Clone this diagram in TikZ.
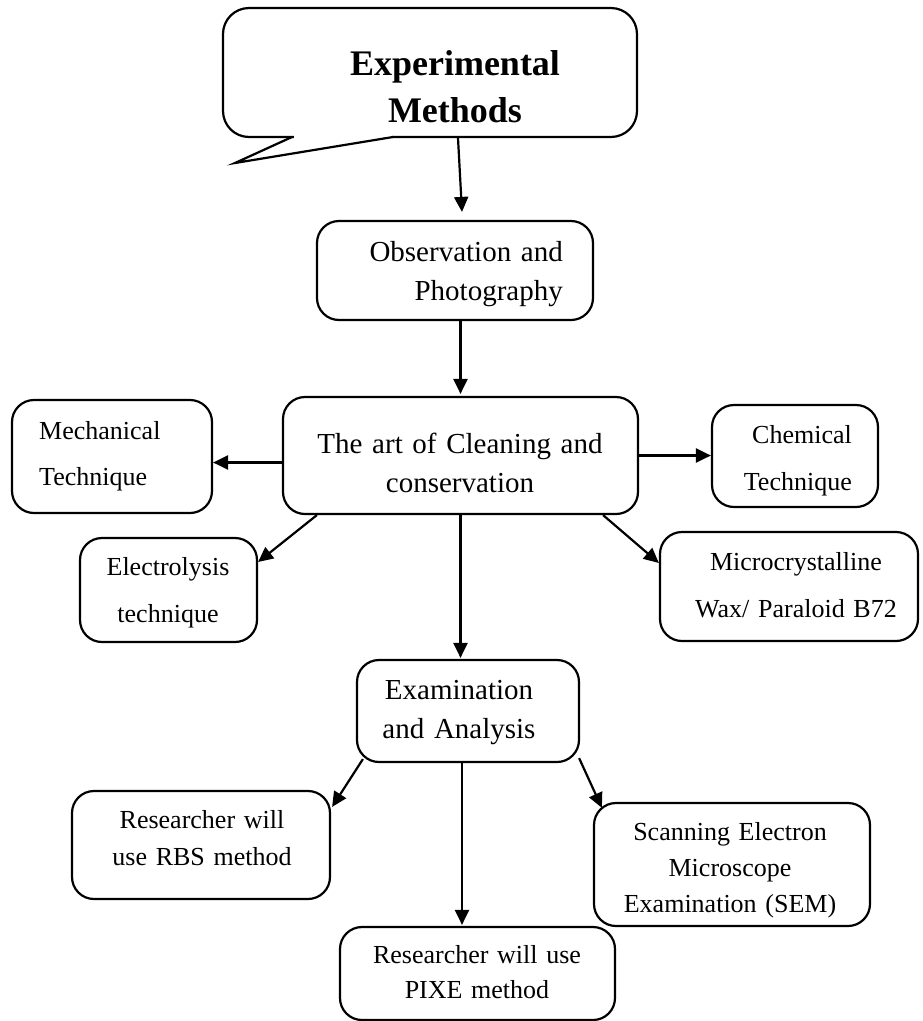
\documentclass[tikz,border=0pt]{standalone}
\usepackage{fontspec}
\setmainfont{Liberation Serif}
\usetikzlibrary{arrows.meta}
\begin{document}
\begin{tikzpicture}[x=1pt,y=-1pt,
  box/.style={draw, line width=2.2pt, rounded corners=22pt, inner sep=0pt},
  arr/.style={-{Triangle[length=15pt,width=14pt]}, line width=2.2pt},
  txt/.style={inner sep=0pt, text width=320pt},
  big/.style={font=\fontsize{29}{39}\selectfont},
  small/.style={font=\fontsize{26}{47}\selectfont},
  tight/.style={font=\fontsize{26}{36}\selectfont}]
\useasboundingbox (0,0) rectangle (922,1021);
\fill[white] (0,0) rectangle (922,1021);

% speech-bubble title
\node[box, rounded corners=26pt, minimum width=414pt, minimum height=129pt] (title) at (430,72.5) {};
\fill[white] (293.5,134.5) rectangle (391.5,139.6);
\draw[line width=2.2pt, line join=miter] (292,137) -- (235,163) -- (393,137);
\node[txt, align=center, anchor=base, font=\fontsize{36}{47}\selectfont\bfseries] (title-t) at (455,75) {Experimental\\Methods};

% boxes
\node[box, minimum width=276pt, minimum height=99pt]  (obs)   at (455,270.5) {};
\node[box, minimum width=355pt, minimum height=117pt] (clean) at (460.5,455.5) {};
\node[box, minimum width=200pt, minimum height=113pt] (mech)  at (112,456.5) {};
\node[box, minimum width=166pt, minimum height=102pt] (chem)  at (795,456) {};
\node[box, minimum width=177pt, minimum height=104pt] (elec)  at (168.5,590) {};
\node[box, minimum width=258pt, minimum height=109pt] (micro) at (789,586.5) {};
\node[box, minimum width=222pt, minimum height=102pt] (exam)  at (468,711) {};
\node[box, minimum width=258pt, minimum height=108pt] (rbs)   at (201,845) {};
\node[box, minimum width=275pt, minimum height=93pt]  (pixe)  at (477.5,973.5) {};
\node[box, minimum width=276pt, minimum height=123pt] (sem)   at (732,864.5) {};

% box texts
\node[txt, big, align=right, anchor=base east] (obs-t) at (563,261) {Observation and\\Photography};
\node[txt, big, align=center, anchor=base] (clean-t) at (460,453) {The art of Cleaning and\\conservation};
\node[txt, font=\fontsize{26}{46}\selectfont, align=left, anchor=base west] (mech-t) at (39,439) {Mechanical\\Technique};
\node[txt, small, align=right, anchor=base east] (chem-t) at (852,443) {Chemical\\Technique};
\node[txt, small, align=center, anchor=base] (elec-t) at (168,575) {Electrolysis\\technique};
\node[txt, small, align=center, anchor=base] (micro-t) at (796,570) {Microcrystalline\\Wax/ Paraloid B72};
\node[txt, big, align=center, anchor=base] (exam-t) at (459,699) {Examination\\and Analysis};
\node[txt, font=\fontsize{26}{37}\selectfont, align=center, anchor=base] (rbs-t) at (202,828) {Researcher will\\use RBS method};
\node[txt, font=\fontsize{26}{35}\selectfont, align=center, anchor=base] (pixe-t) at (477,963) {Researcher will use\\PIXE method};
\node[txt, tight, align=center, anchor=base] (sem-t) at (730,840) {Scanning Electron\\Microscope\\Examination (SEM)};

% connectors
\draw[arr] ([xshift=28pt]title.south) -- ([xshift=7pt,yshift=8pt]obs.north);
\draw[arr] (obs.south -| clean.north) -- ([yshift=2pt]clean.north);
\draw[arr] ([yshift=-7pt]clean.west) -- ([yshift=-7pt]clean.west -| mech.east);
\draw[arr] (clean.east) -- (clean.east -| chem.west);
\draw[arr] ([xshift=35pt]clean.south west) -- ([yshift=28pt]elec.east);
\draw[arr] ([xshift=-36pt]clean.south east) -- ([yshift=23.5pt]micro.west);
\draw[arr] (clean.south) -- ([yshift=1pt]clean.south |- exam.north);
\draw[arr] ([xshift=7pt,yshift=4pt]exam.south west) -- ([xshift=1pt,yshift=-17pt]rbs.north east);
\draw[arr] ([xshift=-6pt]exam.south) -- ([xshift=-6pt,yshift=1pt]exam.south |- pixe.north);
\draw[arr] ([xshift=-1pt,yshift=5pt]exam.south east) -- ([xshift=9pt,yshift=-6pt]sem.north west);
\end{tikzpicture}
\end{document}
